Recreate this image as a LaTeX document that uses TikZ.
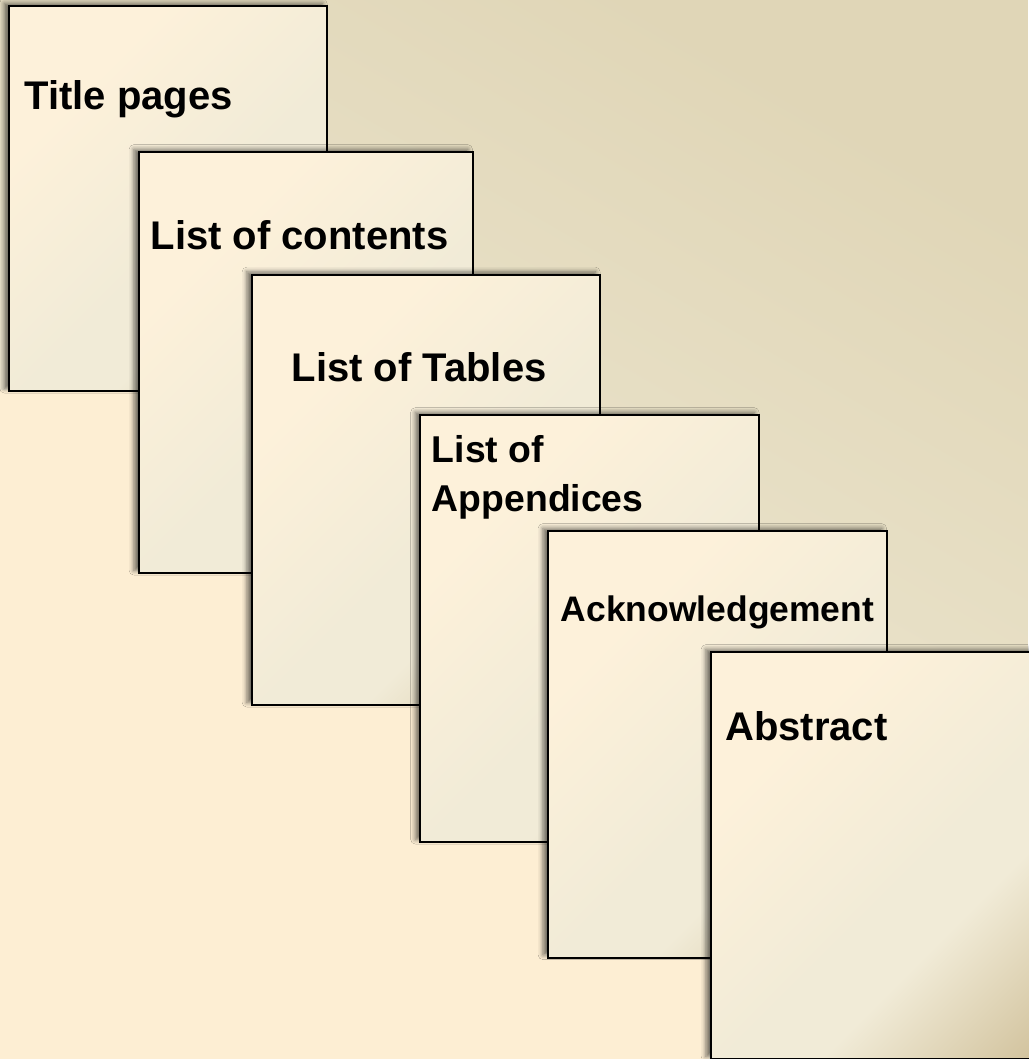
\documentclass[tikz,border=0pt]{standalone}
\usepackage{fontspec}
\setmainfont{Liberation Sans}
\usetikzlibrary{shadows.blur}
\definecolor{cream}{HTML}{FDEED3}
\definecolor{bgdark}{HTML}{E0D6B7}
\definecolor{bglight}{HTML}{F3EEDC}
\definecolor{pgA}{HTML}{FDF1DA}
\definecolor{pgB}{HTML}{F1EBD7}
\definecolor{pgC}{HTML}{D2C39E}
\pgfdeclarehorizontalshading{pageshade}{100bp}{color(0bp)=(pgA); color(30bp)=(pgA); color(55bp)=(pgB); color(64bp)=(pgB); color(84bp)=(pgC); color(100bp)=(pgC)}
\tikzset{
  page/.style={shade, shading=pageshade, shading angle=-45, draw=black, line width=1.5pt,
    anchor=north west, inner sep=0pt,
    blur shadow={shadow xshift=-3.5pt, shadow yshift=2pt, shadow blur radius=3.5pt, shadow opacity=55}},
  pagelabel/.style={anchor=base west, inner sep=0pt, font=\bfseries\fontsize{30}{36}\selectfont},
}
\begin{document}
\begin{tikzpicture}[x=0.75pt,y=-0.75pt]
\useasboundingbox (0,0) rectangle (1028,1059);
\fill[cream] (0,0) rectangle (1028,1059);
\shade[shading=axis, top color=bgdark, bottom color=bglight, shading angle=-30]
  (0,0) -- (1028,0) -- (1028,1059) -- (709,1059) -- (709,956) -- (546,956) -- (546,841)
  -- (419,841) -- (419,704) -- (250,704) -- (250,572) -- (137,572) -- (137,390) -- (0,390) -- cycle;

\node[page, minimum width=238.5pt, minimum height=288.75pt] (b1) at (8,5) {};
\node[pagelabel] (t1) at (24.2,110) {Title pages};

\node[page, minimum width=250.5pt, minimum height=315.75pt] (b2) at (137.5,151) {};
\node[pagelabel] (t2) at (150.4,249) {List of contents};

\node[page, minimum width=261.4pt, minimum height=322.9pt] (b3) at (250.5,273.5) {};
\node[pagelabel] (t3) at (291.4,381.5) {List of Tables};

\node[page, minimum width=254.25pt, minimum height=320.25pt] (b4) at (419,414) {};
\node[pagelabel, font=\bfseries\fontsize{28}{36.75}\selectfont, align=left] (t4) at (431.6,511.7) {List of\\Appendices};

\node[page, minimum width=254.25pt, minimum height=319.9pt] (b5) at (546.5,530) {};
\node[pagelabel, font=\bfseries\fontsize{26.6}{32}\selectfont] (t5) at (560.5,621.7) {Acknowledgement};

\node[page, minimum width=251.6pt, minimum height=305.25pt] (b6) at (709.5,651) {};
\node[pagelabel] (t6) at (725,740.7) {Abstract};
\end{tikzpicture}
\end{document}
